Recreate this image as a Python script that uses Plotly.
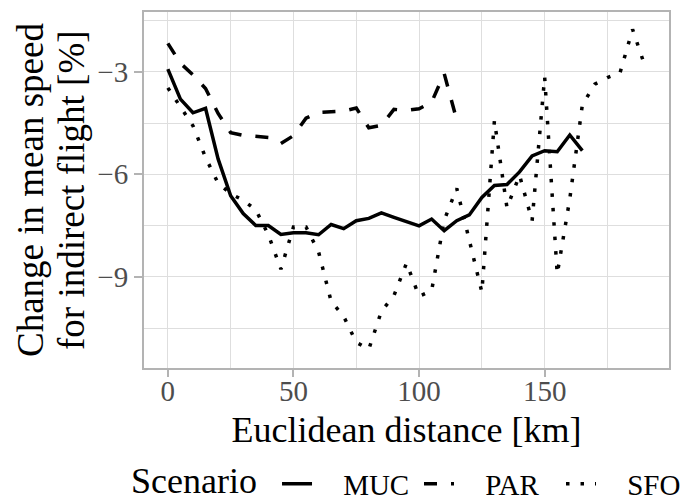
import plotly.graph_objects as go

# ---- data ----
dist_muc = [0, 5, 10, 15, 20, 25, 30, 35, 40, 45, 50, 55, 60, 65, 70, 75, 80, 85,
            90, 95, 100, 105, 110, 115, 120, 125, 130, 135, 140, 145, 150, 155, 160, 165]
muc = [-2.92, -3.80, -4.20, -4.07, -5.55, -6.63, -7.15, -7.50, -7.50, -7.76, -7.71, -7.71,
       -7.77, -7.47, -7.59, -7.36, -7.29, -7.13, -7.26, -7.39, -7.51, -7.31, -7.65, -7.36,
       -7.19, -6.68, -6.33, -6.30, -5.93, -5.46, -5.31, -5.34, -4.85, -5.31]

dist_par = [0, 5, 10, 15, 20, 25, 30, 35, 40, 45, 50, 55, 60, 65, 70, 75, 80, 85,
            90, 95, 100, 105, 110, 115]
par = [-2.17, -2.75, -3.09, -3.49, -4.22, -4.78, -4.86, -4.88, -4.92, -5.10, -4.87, -4.36,
       -4.19, -4.17, -4.15, -4.06, -4.64, -4.57, -4.10, -4.13, -4.08, -3.89, -3.05, -4.41]

dist_sfo = [0, 5, 10, 15, 20, 25, 30, 35, 40, 45, 50, 55, 60, 65, 70, 75, 80, 85, 90, 95,
            100, 105, 110, 115, 120, 125, 130, 135, 140, 145, 150, 155, 160, 165, 170, 175,
            180, 185, 190]
sfo = [-3.47, -4.01, -4.58, -5.51, -6.26, -6.57, -6.76, -7.04, -7.77, -8.78, -7.54, -7.54,
       -8.27, -9.72, -10.16, -10.92, -11.12, -10.01, -9.55, -8.60, -9.57, -9.41, -7.35, -6.41,
       -7.88, -9.45, -4.43, -6.98, -6.03, -7.36, -3.15, -8.92, -6.72, -3.97, -3.36, -3.17,
       -3.03, -1.76, -2.85]

scenario_names = ["MUC", "PAR", "SFO"]
legend_title = "Scenario"
x_ticks = [0, 50, 100, 150]
y_ticks = [-3, -6, -9]
y_ticktext = ["\u22123", "\u22126", "\u22129"]
y_title_lines = ["Change in mean speed", "for indirect flight [%]"]
x_title = "Euclidean distance [km]"

FONT = "Liberation Serif, Tinos, Times New Roman, Times, DejaVu Serif, serif"
GRID = "#DEDEDE"
BORDER = "#B3B3B3"
KEY_GAP = "\u2002\u2009\u2009"   # space between legend key and its label

fig = go.Figure()
series = [(dist_muc, muc, "solid"), (dist_par, par, "13px,14px"), (dist_sfo, sfo, "3.5px,11px")]
for name, (xs, ys, dash) in zip(scenario_names, series):
    fig.add_trace(go.Scatter(x=xs, y=ys, mode="lines", name=KEY_GAP + name,
                             line=dict(color="black", width=3.5, dash=dash)))

fig.update_layout(
    width=684, height=500,
    margin=dict(l=144, r=15, t=12, b=132, autoexpand=False),
    paper_bgcolor="white", plot_bgcolor="white",
    font=dict(family=FONT, color="black"),
    showlegend=True,
    legend=dict(
        orientation="h", xref="container", x=0.405, xanchor="left",
        yref="container", y=0.032, yanchor="middle",
        font=dict(size=29, family=FONT, color="black"),
        bgcolor="rgba(0,0,0,0)", itemwidth=30,
        entrywidth=97, entrywidthmode="pixels",
    ),
    xaxis=dict(
        range=[-9.5, 199.5], tickvals=x_ticks, ticktext=[str(v) for v in x_ticks],
        automargin=False,
        showgrid=True, gridcolor=GRID, gridwidth=1.3,
        minor=dict(dtick=25, tick0=0, showgrid=True, gridcolor=GRID, gridwidth=0.8),
        zeroline=False, showline=True, linecolor=BORDER, linewidth=2, mirror=True,
        ticks="outside", ticklen=7, tickwidth=1.5, tickcolor=BORDER,
        ticklabelstandoff=-11,
        tickfont=dict(size=29, family=FONT, color="#4D4D4D"),
        title=dict(text=x_title, font=dict(size=36, family=FONT, color="black"),
                   standoff=11),
    ),
    yaxis=dict(
        range=[-11.67, -1.25], tickvals=y_ticks, ticktext=y_ticktext,
        automargin=False,
        showgrid=True, gridcolor=GRID, gridwidth=1.3,
        minor=dict(dtick=1.5, tick0=0, showgrid=True, gridcolor=GRID, gridwidth=0.8),
        zeroline=False, showline=True, linecolor=BORDER, linewidth=2, mirror=True,
        ticks="outside", ticklen=8, tickwidth=1.5, tickcolor=BORDER,
        tickfont=dict(size=29, family=FONT, color="#4D4D4D"),
    ),
)

# two-line y-axis title, placed line by line
for line_text, shift in zip(y_title_lines, [-114, -73]):
    fig.add_annotation(text=line_text, textangle=-90, xref="paper", yref="paper",
                       x=0, y=0.5, xanchor="center", yanchor="middle", xshift=shift,
                       showarrow=False, font=dict(size=37, family=FONT, color="black"))

# legend title, on the same baseline as the legend labels
fig.add_annotation(text=legend_title, xref="paper", yref="paper", x=0, y=0,
                   xanchor="left", yanchor="middle", xshift=-14, yshift=-113, borderpad=0,
                   showarrow=False, font=dict(size=36, family=FONT, color="black"))

fig.write_html("out.html", config={"displayModeBar": False},
               post_script="document.body.style.margin='0';")
